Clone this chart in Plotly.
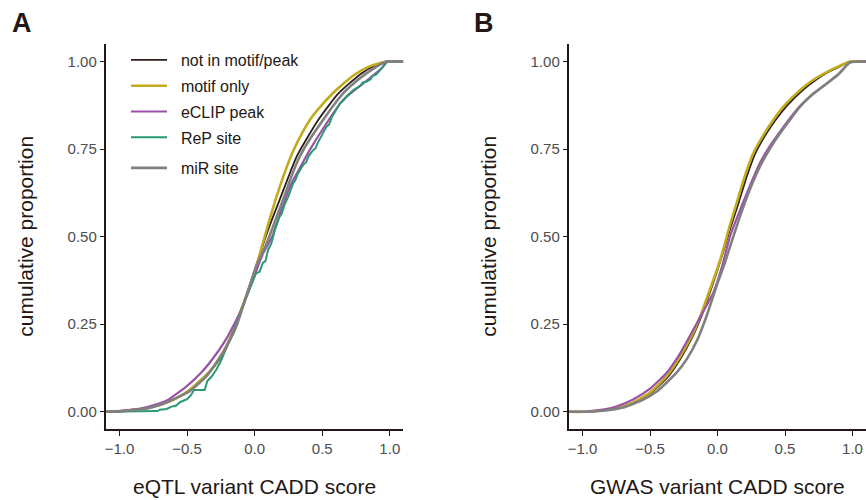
import plotly.graph_objects as go

# ---------------- data ----------------
series_names = ["not in motif/peak", "motif only", "eCLIP peak", "ReP site", "miR site"]
series_colors = ["#2b1d18", "#c2ab1c", "#9b51a8", "#2a9a72", "#808080"]
series_widths = [1.8, 2.6, 2.2, 2.0, 2.6]

x_ticks = [-1.0, -0.5, 0.0, 0.5, 1.0]
x_tick_labels = ["\u22121.0", "\u22120.5", "0.0", "0.5", "1.0"]
y_ticks = [0.0, 0.25, 0.5, 0.75, 1.0]
y_tick_labels = ["0.00", "0.25", "0.50", "0.75", "1.00"]

# Panel A: eQTL
a_notin_x = [-1.1, -1.0, -0.85, -0.7, -0.55, -0.45, -0.35, -0.25, -0.15, -0.05, 0.03, 0.1, 0.185, 0.31, 0.47, 0.62, 0.79, 0.9, 0.98, 1.1]
a_notin_y = [0.0, 0.002, 0.008, 0.022, 0.045, 0.07, 0.105, 0.155, 0.23, 0.345, 0.44, 0.52, 0.605, 0.728, 0.833, 0.909, 0.966, 0.99, 1.0, 1.0]

a_motif_x = [-1.1, -1.0, -0.85, -0.7, -0.6, -0.5, -0.4, -0.3, -0.2, -0.1, 0.0, 0.05, 0.1, 0.16, 0.22, 0.28, 0.35, 0.43, 0.5, 0.58, 0.66, 0.75, 0.85, 0.93, 0.98, 1.1]
a_motif_y = [0.0, 0.002, 0.008, 0.02, 0.035, 0.057, 0.09, 0.13, 0.195, 0.292, 0.4, 0.467, 0.535, 0.612, 0.68, 0.74, 0.795, 0.845, 0.877, 0.91, 0.938, 0.965, 0.986, 0.996, 1.0, 1.0]

a_eclip_x = [-1.1, -1.0, -0.9, -0.8, -0.65, -0.5, -0.4, -0.333, -0.21, -0.1, 0.0, 0.06, 0.13, 0.2, 0.272, 0.34, 0.407, 0.531, 0.654, 0.802, 0.938, 0.985, 1.1]
a_eclip_y = [0.0, 0.002, 0.006, 0.013, 0.032, 0.074, 0.11, 0.14, 0.208, 0.29, 0.39, 0.45, 0.5, 0.58, 0.652, 0.7, 0.747, 0.823, 0.89, 0.937, 0.98, 1.0, 1.0]

a_rep_x = [-1.1, -0.8, -0.72, -0.7, -0.65, -0.62, -0.58, -0.55, -0.5, -0.47, -0.45, -0.37, -0.35, -0.32, -0.284, -0.25, -0.21, -0.17, -0.13, -0.1, -0.06, -0.02, 0.01, 0.037, 0.06, 0.08, 0.099, 0.123, 0.15, 0.185, 0.2, 0.22, 0.25, 0.284, 0.3, 0.32, 0.36, 0.38, 0.4, 0.432, 0.45, 0.47, 0.5, 0.531, 0.55, 0.57, 0.6, 0.63, 0.66, 0.68, 0.728, 0.76, 0.78, 0.8, 0.827, 0.86, 0.87, 0.9, 0.926, 0.95, 0.975, 1.1]
a_rep_y = [0.0, 0.0, 0.002, 0.006, 0.008, 0.014, 0.018, 0.028, 0.036, 0.048, 0.062, 0.062, 0.088, 0.1, 0.12, 0.145, 0.18, 0.215, 0.255, 0.29, 0.33, 0.37, 0.395, 0.4, 0.425, 0.43, 0.462, 0.48, 0.52, 0.557, 0.565, 0.59, 0.615, 0.652, 0.66, 0.68, 0.705, 0.712, 0.73, 0.747, 0.752, 0.77, 0.79, 0.814, 0.82, 0.84, 0.86, 0.88, 0.89, 0.9, 0.918, 0.925, 0.93, 0.94, 0.942, 0.95, 0.958, 0.963, 0.975, 0.985, 1.0, 1.0]

a_mir_x = [-1.1, -1.0, -0.926, -0.778, -0.63, -0.481, -0.358, -0.235, -0.136, -0.062, 0.012, 0.086, 0.166, 0.21, 0.27, 0.333, 0.42, 0.506, 0.58, 0.654, 0.74, 0.827, 0.9, 0.975, 1.1]
a_mir_y = [0.0, 0.001, 0.004, 0.011, 0.03, 0.059, 0.101, 0.168, 0.244, 0.33, 0.415, 0.478, 0.56, 0.605, 0.67, 0.728, 0.785, 0.833, 0.873, 0.909, 0.94, 0.966, 0.985, 1.0, 1.0]

# Panel B: GWAS
b_notin_x = [-1.1, -0.99, -0.85, -0.75, -0.625, -0.5, -0.378, -0.28, -0.18, -0.12, -0.057, 0.0, 0.045, 0.1, 0.155, 0.215, 0.28, 0.355, 0.43, 0.52, 0.63, 0.72, 0.82, 0.91, 0.985, 1.1]
b_notin_y = [0.0, 0.0, 0.004, 0.01, 0.025, 0.052, 0.095, 0.148, 0.218, 0.272, 0.34, 0.405, 0.46, 0.53, 0.595, 0.67, 0.738, 0.79, 0.833, 0.876, 0.918, 0.945, 0.97, 0.987, 1.0, 1.0]

b_motif_x = [-1.1, -0.99, -0.85, -0.75, -0.625, -0.5, -0.378, -0.28, -0.18, -0.12, -0.057, 0.0, 0.042, 0.09, 0.141, 0.2, 0.265, 0.34, 0.413, 0.5, 0.611, 0.7, 0.809, 0.9, 0.982, 1.1]
b_motif_y = [0.0, 0.0, 0.004, 0.01, 0.026, 0.055, 0.101, 0.155, 0.225, 0.28, 0.348, 0.41, 0.462, 0.53, 0.595, 0.67, 0.738, 0.79, 0.833, 0.876, 0.918, 0.945, 0.97, 0.987, 1.0, 1.0]

b_eclip_x = [-1.1, -0.99, -0.85, -0.75, -0.625, -0.5, -0.378, -0.28, -0.18, -0.1, -0.032, 0.03, 0.092, 0.166, 0.24, 0.314, 0.39, 0.463, 0.54, 0.611, 0.7, 0.809, 0.9, 0.98, 1.1]
b_eclip_y = [0.0, 0.0, 0.006, 0.015, 0.035, 0.066, 0.111, 0.165, 0.234, 0.29, 0.339, 0.41, 0.5, 0.575, 0.645, 0.71, 0.76, 0.8, 0.84, 0.873, 0.905, 0.937, 0.965, 0.997, 1.0]

b_mir_x = [-1.1, -0.99, -0.85, -0.7, -0.55, -0.45, -0.378, -0.3, -0.23, -0.15, -0.082, 0.0, 0.05, 0.1, 0.166, 0.24, 0.314, 0.39, 0.463, 0.54, 0.611, 0.7, 0.809, 0.9, 0.98, 1.1]
b_mir_y = [0.0, 0.0, 0.003, 0.012, 0.035, 0.058, 0.083, 0.113, 0.149, 0.205, 0.272, 0.367, 0.42, 0.48, 0.557, 0.635, 0.7, 0.752, 0.795, 0.835, 0.871, 0.905, 0.937, 0.965, 0.997, 1.0]

panel_a = [(a_notin_x, a_notin_y), (a_motif_x, a_motif_y), (a_eclip_x, a_eclip_y),
           (a_rep_x, a_rep_y), (a_mir_x, a_mir_y)]
panel_b = [(b_notin_x, b_notin_y), (b_motif_x, b_motif_y), (b_eclip_x, b_eclip_y),
           None, (b_mir_x, b_mir_y)]

# ---------------- figure ----------------
FONT = "Liberation Sans, Arial, Helvetica, sans-serif"
DARK = "#231815"
TICKC = "#4d4d4d"
NBSP = "\u00a0\u00a0"

fig = go.Figure()

for i, (name, col, w) in enumerate(zip(series_names, series_colors, series_widths)):
    xs, ys = panel_a[i]
    smooth = name != "ReP site"
    fig.add_trace(go.Scatter(
        x=xs, y=ys, mode="lines", name=NBSP + name,
        line=dict(color=col, width=w, shape="spline" if smooth else "linear",
                  smoothing=0.5 if smooth else None),
        xaxis="x", yaxis="y",
        legend="legend2" if name == "miR site" else "legend",
        legendgroup="g%d" % i, showlegend=True, hoverinfo="skip",
    ))

for i, (name, col, w) in enumerate(zip(series_names, series_colors, series_widths)):
    if panel_b[i] is None:
        continue
    xs, ys = panel_b[i]
    fig.add_trace(go.Scatter(
        x=xs, y=ys, mode="lines", name=name,
        line=dict(color=col, width=w, shape="spline", smoothing=0.5),
        xaxis="x2", yaxis="y2", showlegend=False, legendgroup="g%d" % i,
        hoverinfo="skip",
    ))

W, H = 866, 500
ax_common = dict(
    showline=True, linecolor=DARK, linewidth=1.5, mirror=False,
    ticks="outside", ticklen=4.5, tickwidth=1.2, tickcolor=DARK,
    tickfont=dict(family=FONT, size=15, color=TICKC),
    showgrid=False, zeroline=False,
)
xdomA = [106 / W, 403.3 / W]
xdomB = [569 / W, 1.0]
ydom = [1 - 429.3 / H, 1 - 44 / H]

fig.update_layout(
    width=W, height=H,
    margin=dict(l=0, r=0, t=0, b=0),
    paper_bgcolor="white", plot_bgcolor="white",
    font=dict(family=FONT, color=DARK),
    xaxis=dict(domain=xdomA, range=[-1.1, 1.1], tickvals=x_ticks, ticktext=x_tick_labels,
               anchor="y", **ax_common),
    yaxis=dict(domain=ydom, range=[-0.05, 1.05], tickvals=y_ticks, ticktext=y_tick_labels,
               anchor="x", **ax_common),
    xaxis2=dict(domain=xdomB, range=[-1.1, 1.1], tickvals=x_ticks, ticktext=x_tick_labels,
                anchor="y2", **ax_common),
    yaxis2=dict(domain=ydom, range=[-0.05, 1.05], tickvals=y_ticks, ticktext=y_tick_labels,
                anchor="x2", **ax_common),
    legend=dict(x=126 / W, xanchor="left", y=1 - 43 / H, yanchor="top",
                bgcolor="rgba(0,0,0,0)", borderwidth=0,
                font=dict(family=FONT, size=16, color=DARK),
                itemwidth=36, traceorder="grouped", tracegroupgap=2),
    legend2=dict(x=126 / W, xanchor="left", y=1 - 151 / H, yanchor="top",
                 bgcolor="rgba(0,0,0,0)", borderwidth=0,
                 font=dict(family=FONT, size=16, color=DARK),
                 itemwidth=36),
)

annotations = [
    dict(text="<b>A</b>", x=21.5 / W, y=1 - 23 / H, xref="paper", yref="paper",
         xanchor="center", yanchor="middle", showarrow=False,
         font=dict(family=FONT, size=27, color=DARK)),
    dict(text="<b>B</b>", x=484 / W, y=1 - 23 / H, xref="paper", yref="paper",
         xanchor="center", yanchor="middle", showarrow=False,
         font=dict(family=FONT, size=27, color=DARK)),
    dict(text="cumulative proportion", x=26 / W, y=0.5 * (ydom[0] + ydom[1]),
         xref="paper", yref="paper", textangle=-90, xanchor="center", yanchor="middle",
         showarrow=False, font=dict(family=FONT, size=21, color=DARK)),
    dict(text="cumulative proportion", x=489 / W, y=0.5 * (ydom[0] + ydom[1]),
         xref="paper", yref="paper", textangle=-90, xanchor="center", yanchor="middle",
         showarrow=False, font=dict(family=FONT, size=21, color=DARK)),
    dict(text="eQTL variant CADD score", x=0.0, y=1 - 486 / H, xref="x", yref="paper",
         xanchor="center", yanchor="middle", showarrow=False,
         font=dict(family=FONT, size=21, color=DARK)),
    dict(text="GWAS variant CADD score", x=0.0, y=1 - 486 / H, xref="x2", yref="paper",
         xanchor="center", yanchor="middle", showarrow=False,
         font=dict(family=FONT, size=21, color=DARK)),
]
fig.update_layout(annotations=annotations)

fig.write_html("out.html")
